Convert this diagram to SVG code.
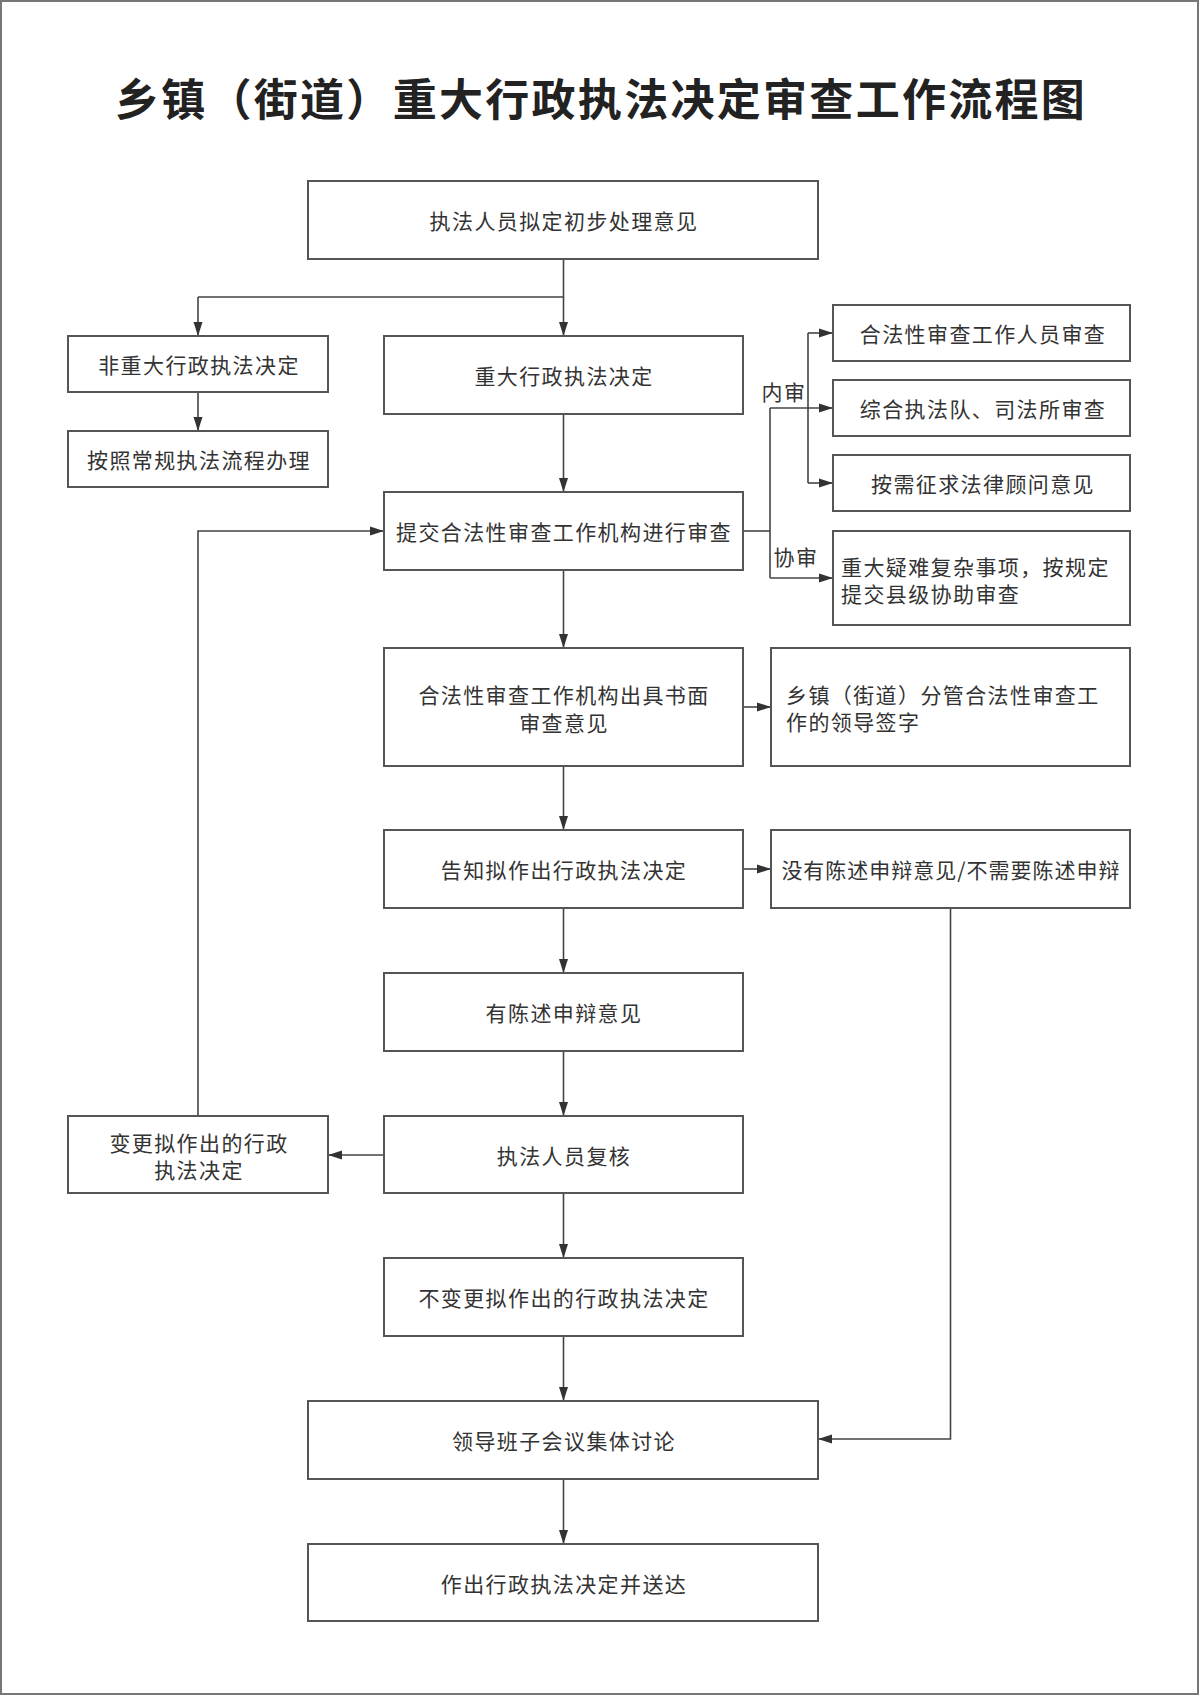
<svg xmlns="http://www.w3.org/2000/svg" width="1199" height="1695" viewBox="0 0 1199 1695">
<defs>
<marker id="arr" markerUnits="userSpaceOnUse" markerWidth="14" markerHeight="10" refX="14" refY="5" orient="auto">
<path d="M0,0.5 L14,5 L0,9.5 z" fill="#333"/>
</marker>
<style>
.frame{fill:#fff;stroke:#777;stroke-width:2}
.box{fill:#fff;stroke:#555;stroke-width:2}
.t{font-family:"Noto Sans CJK SC","Noto Sans",sans-serif;font-size:21px;fill:#333;letter-spacing:1.4px;dominant-baseline:central}
.c{text-anchor:middle}
.title{font-family:"Noto Sans CJK SC","Noto Sans",sans-serif;font-size:44px;font-weight:bold;fill:#222;letter-spacing:2.3px;text-anchor:middle;dominant-baseline:central}
.ln{fill:none;stroke:#444;stroke-width:1.6}
.ar{fill:none;stroke:#444;stroke-width:1.6;marker-end:url(#arr)}
</style>
</defs>
<rect class="frame" x="1" y="1" width="1197" height="1693"/>
<text class="title" x="601" y="97">乡镇（街道）重大行政执法决定审查工作流程图</text>

<g id="connectors">
<path class="ln" d="M563.5,259 V297 H198"/>
<path class="ar" d="M198,297 V336"/>
<path class="ar" d="M563.5,297 V336"/>
<path class="ar" d="M198,392 V431"/>
<path class="ar" d="M563.5,414 V492"/>
<path class="ar" d="M563.5,570 V648"/>
<path class="ar" d="M563.5,766 V830"/>
<path class="ar" d="M563.5,908 V973"/>
<path class="ar" d="M563.5,1051 V1116"/>
<path class="ar" d="M563.5,1193 V1258"/>
<path class="ar" d="M563.5,1336 V1401"/>
<path class="ar" d="M563.5,1479 V1544"/>
<path class="ar" d="M743,707 H771"/>
<path class="ar" d="M743,869 H771"/>
<path class="ar" d="M950.5,908 V1439 H818"/>
<path class="ar" d="M384,1155 H328"/>
<path class="ar" d="M198,1116 V531 H384"/>
<path class="ln" d="M743,531 H770"/>
<path class="ln" d="M770,408 V578"/>
<path class="ar" d="M770,408 H833"/>
<path class="ar" d="M770,578 H833"/>
<path class="ln" d="M808,333 V483"/>
<path class="ar" d="M808,333 H833"/>
<path class="ar" d="M808,483 H833"/>
<text class="t c" x="784" y="391">内审</text>
<text class="t c" x="796" y="556">协审</text>
</g>

<g id="n1"><rect class="box" x="308" y="181" width="510" height="78"/><text class="t c" x="564" y="220">执法人员拟定初步处理意见</text></g>
<g id="n2"><rect class="box" x="68" y="336" width="260" height="56"/><text class="t c" x="199" y="364">非重大行政执法决定</text></g>
<g id="n3"><rect class="box" x="384" y="336" width="359" height="78"/><text class="t c" x="564" y="375">重大行政执法决定</text></g>
<g id="n4"><rect class="box" x="68" y="431" width="260" height="56"/><text class="t c" x="199" y="459">按照常规执法流程办理</text></g>
<g id="n5"><rect class="box" x="384" y="492" width="359" height="78"/><text class="t c" x="564" y="531">提交合法性审查工作机构进行审查</text></g>
<g id="n6"><rect class="box" x="833" y="305" width="297" height="56"/><text class="t c" x="983" y="333">合法性审查工作人员审查</text></g>
<g id="n7"><rect class="box" x="833" y="380" width="297" height="56"/><text class="t c" x="983" y="408">综合执法队、司法所审查</text></g>
<g id="n8"><rect class="box" x="833" y="455" width="297" height="56"/><text class="t c" x="983" y="483">按需征求法律顾问意见</text></g>
<g id="n9"><rect class="box" x="833" y="531" width="297" height="94"/><text class="t" x="841" y="566">重大疑难复杂事项，按规定</text><text class="t" x="841" y="593">提交县级协助审查</text></g>
<g id="n10"><rect class="box" x="384" y="648" width="359" height="118"/><text class="t c" x="564" y="694">合法性审查工作机构出具书面</text><text class="t c" x="564" y="722">审查意见</text></g>
<g id="n11"><rect class="box" x="771" y="648" width="359" height="118"/><text class="t" x="786" y="694">乡镇（街道）分管合法性审查工</text><text class="t" x="786" y="721">作的领导签字</text></g>
<g id="n12"><rect class="box" x="384" y="830" width="359" height="78"/><text class="t c" x="564" y="869">告知拟作出行政执法决定</text></g>
<g id="n13"><rect class="box" x="771" y="830" width="359" height="78"/><text class="t c" x="951" y="869" style="letter-spacing:1px">没有陈述申辩意见/不需要陈述申辩</text></g>
<g id="n14"><rect class="box" x="384" y="973" width="359" height="78"/><text class="t c" x="564" y="1012">有陈述申辩意见</text></g>
<g id="n15"><rect class="box" x="384" y="1116" width="359" height="77"/><text class="t c" x="564" y="1155">执法人员复核</text></g>
<g id="n16"><rect class="box" x="68" y="1116" width="260" height="77"/><text class="t c" x="199" y="1142">变更拟作出的行政</text><text class="t c" x="199" y="1169">执法决定</text></g>
<g id="n17"><rect class="box" x="384" y="1258" width="359" height="78"/><text class="t c" x="564" y="1297">不变更拟作出的行政执法决定</text></g>
<g id="n18"><rect class="box" x="308" y="1401" width="510" height="78"/><text class="t c" x="564" y="1440">领导班子会议集体讨论</text></g>
<g id="n19"><rect class="box" x="308" y="1544" width="510" height="77"/><text class="t c" x="564" y="1583">作出行政执法决定并送达</text></g>
</svg>
